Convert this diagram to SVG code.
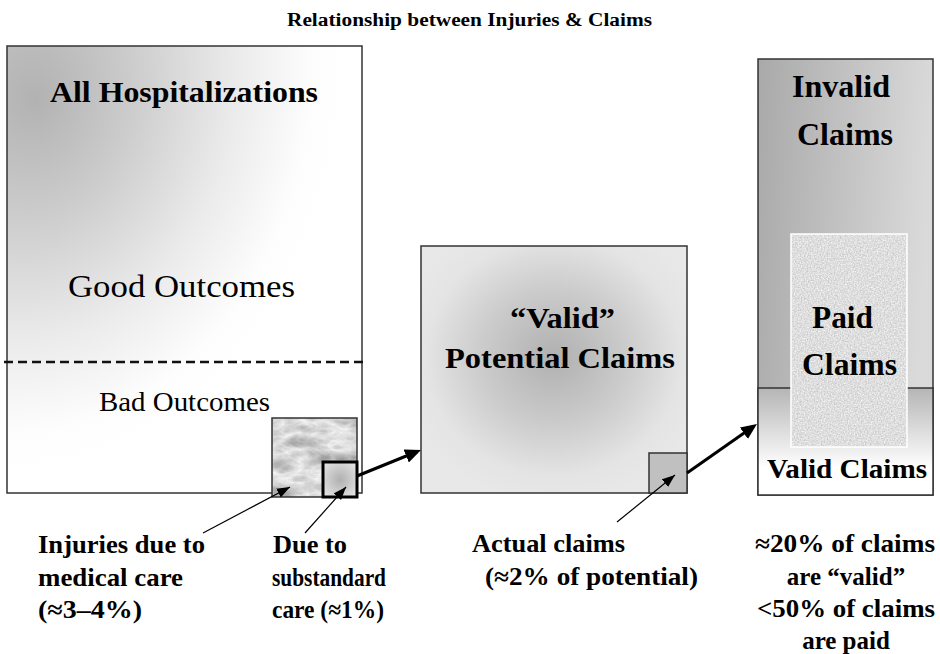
<svg xmlns="http://www.w3.org/2000/svg" width="940" height="654" viewBox="0 0 940 654">
<style>
.box{stroke:#333;stroke-width:1.5}
.conn{stroke:#000;stroke-width:3;fill:none}
.lead{stroke:#000;stroke-width:1.2;fill:none}
</style>
<defs>
<radialGradient id="gLeft" cx="0" cy="0" r="0.95" fx="0.08" fy="0.12">
<stop offset="0" stop-color="#b2b2b2"/>
<stop offset="0.3" stop-color="#cbcbcb"/>
<stop offset="0.65" stop-color="#ebebeb"/>
<stop offset="0.9" stop-color="#fdfdfd"/>
<stop offset="1" stop-color="#ffffff"/>
</radialGradient>
<radialGradient id="gMid" cx="0.5" cy="0.45" r="0.6">
<stop offset="0" stop-color="#b0b0b0"/>
<stop offset="0.45" stop-color="#cbcbcb"/>
<stop offset="0.8" stop-color="#e4e4e4"/>
<stop offset="1" stop-color="#e8e8e8"/>
</radialGradient>
<linearGradient id="gRight" x1="0" y1="0" x2="1" y2="0.15">
<stop offset="0" stop-color="#a9a9a9"/>
<stop offset="1" stop-color="#dadada"/>
</linearGradient>
<linearGradient id="gValid" x1="0" y1="0" x2="0" y2="1">
<stop offset="0" stop-color="#b5b5b5"/>
<stop offset="0.75" stop-color="#ffffff"/>
<stop offset="1" stop-color="#ffffff"/>
</linearGradient>
<radialGradient id="gSmall" cx="0.5" cy="0.5" r="0.6">
<stop offset="0" stop-color="#b0b0b0"/>
<stop offset="1" stop-color="#e2e2e2"/>
</radialGradient>
<filter id="marble" x="0" y="0" width="1" height="1" color-interpolation-filters="sRGB">
<feTurbulence type="turbulence" baseFrequency="0.03 0.06" numOctaves="4" seed="7"/>
<feColorMatrix type="matrix" values="-0.45 0 0 0 0.97  -0.45 0 0 0 0.97  -0.45 0 0 0 0.97  0 0 0 0 1"/>
</filter>
<filter id="speck" x="0" y="0" width="1" height="1" color-interpolation-filters="sRGB">
<feTurbulence type="fractalNoise" baseFrequency="0.7" numOctaves="2" seed="3"/>
<feColorMatrix type="matrix" values="0.28 0 0 0 0.73  0.28 0 0 0 0.73  0.28 0 0 0 0.73  0 0 0 0 1"/>
</filter>
<marker id="big" markerUnits="userSpaceOnUse" markerWidth="18" markerHeight="16" refX="12" refY="7" orient="auto">
<path d="M0,0 L16,7 L0,14 z" fill="#000"/>
</marker>
<marker id="small" markerUnits="userSpaceOnUse" markerWidth="16" markerHeight="12" refX="13" refY="5" orient="auto">
<path d="M0,0 L13,5 L0,10 z" fill="#000"/>
</marker>
</defs>

<text font-family="Liberation Serif" font-weight="bold" x="287" y="26" font-size="18" textLength="365" lengthAdjust="spacingAndGlyphs">Relationship between Injuries &amp; Claims</text>

<g id="hospitalizations">
<rect class="box" x="7" y="46" width="355" height="447" fill="url(#gLeft)"/>
<text font-family="Liberation Serif" font-weight="bold" x="50" y="102" font-size="30" textLength="268" lengthAdjust="spacingAndGlyphs">All Hospitalizations</text>
<text font-family="Liberation Serif" x="68" y="297" font-size="32" textLength="227" lengthAdjust="spacingAndGlyphs">Good Outcomes</text>
<line x1="4" y1="362" x2="367" y2="362" stroke="#111" stroke-width="2.5" stroke-dasharray="9 5"/>
<text font-family="Liberation Serif" x="99" y="411" font-size="27" textLength="171" lengthAdjust="spacingAndGlyphs">Bad Outcomes</text>
</g>

<g id="injuries">
<rect x="272" y="418" width="85" height="79" fill="#e6e6e6" filter="url(#marble)"/>
<rect x="272" y="418" width="85" height="79" fill="none" stroke="#333" stroke-width="1.5"/>
</g>

<g id="substandard">
<rect x="323" y="462" width="34" height="35" fill="url(#gSmall)" stroke="#000" stroke-width="3"/>
</g>

<g id="potential">
<rect class="box" x="421" y="246" width="266" height="247" fill="url(#gMid)"/>
<text font-family="Liberation Serif" font-weight="bold" x="510" y="328" font-size="30" textLength="105" lengthAdjust="spacingAndGlyphs">“Valid”</text>
<text font-family="Liberation Serif" font-weight="bold" x="445" y="368" font-size="30" textLength="230" lengthAdjust="spacingAndGlyphs">Potential Claims</text>
</g>

<g id="actual">
<rect x="649" y="453" width="38" height="40" fill="#c0c0c0" stroke="#333" stroke-width="1.5"/>
</g>

<g id="claims">
<rect class="box" x="758" y="59" width="175" height="436" fill="url(#gRight)"/>
<text font-family="Liberation Serif" font-weight="bold" x="792" y="97" font-size="32" textLength="98" lengthAdjust="spacingAndGlyphs">Invalid</text>
<text font-family="Liberation Serif" font-weight="bold" x="797" y="145" font-size="32" textLength="96" lengthAdjust="spacingAndGlyphs">Claims</text>
</g>

<g id="valid">
<rect class="box" x="758" y="388" width="175" height="107" fill="url(#gValid)"/>
<text font-family="Liberation Serif" font-weight="bold" x="767" y="478" font-size="27" textLength="160" lengthAdjust="spacingAndGlyphs">Valid Claims</text>
</g>

<g id="paid">
<rect x="791" y="234" width="116" height="213" fill="#dcdcdc" filter="url(#speck)"/>
<rect x="791" y="234" width="116" height="213" fill="none" stroke="#ffffff" stroke-width="1.5"/>
<text font-family="Liberation Serif" font-weight="bold" x="812" y="328" font-size="32" textLength="61" lengthAdjust="spacingAndGlyphs">Paid</text>
<text font-family="Liberation Serif" font-weight="bold" x="802" y="375" font-size="32" textLength="95" lengthAdjust="spacingAndGlyphs">Claims</text>
</g>

<g id="connectors">
<line class="conn" x1="357" y1="476" x2="417.3" y2="451.5" marker-end="url(#big)"/>
<line class="conn" x1="687" y1="473" x2="753.7" y2="426.3" marker-end="url(#big)"/>
<line class="lead" x1="203" y1="533" x2="290" y2="487" marker-end="url(#small)"/>
<line class="lead" x1="305" y1="533" x2="346" y2="487" marker-end="url(#small)"/>
<line class="lead" x1="617" y1="522" x2="675" y2="475" marker-end="url(#small)"/>
</g>

<g id="labels" font-family="Liberation Serif" font-weight="bold" font-size="25">
<text font-family="Liberation Serif" x="38" y="553" textLength="167" lengthAdjust="spacingAndGlyphs">Injuries due to</text>
<text font-family="Liberation Serif" x="38" y="586" textLength="145" lengthAdjust="spacingAndGlyphs">medical care</text>
<text font-family="Liberation Serif" x="38" y="618" textLength="104" lengthAdjust="spacingAndGlyphs">(≈3–4%)</text>
<text font-family="Liberation Serif" x="273" y="553" textLength="74" lengthAdjust="spacingAndGlyphs">Due to</text>
<text font-family="Liberation Serif" x="272" y="586" textLength="114" lengthAdjust="spacingAndGlyphs">substandard</text>
<text font-family="Liberation Serif" x="272" y="618" textLength="112" lengthAdjust="spacingAndGlyphs">care (≈1%)</text>
<text font-family="Liberation Serif" x="472" y="552" textLength="153" lengthAdjust="spacingAndGlyphs">Actual claims</text>
<text font-family="Liberation Serif" x="485" y="585" textLength="213" lengthAdjust="spacingAndGlyphs">(≈2% of potential)</text>
<text font-family="Liberation Serif" x="755" y="552" textLength="180" lengthAdjust="spacingAndGlyphs">≈20% of claims</text>
<text font-family="Liberation Serif" x="846" y="585" text-anchor="middle">are “valid”</text>
<text font-family="Liberation Serif" x="757" y="617" textLength="178" lengthAdjust="spacingAndGlyphs">&lt;50% of claims</text>
<text font-family="Liberation Serif" x="846" y="649" text-anchor="middle">are paid</text>
</g>
</svg>
